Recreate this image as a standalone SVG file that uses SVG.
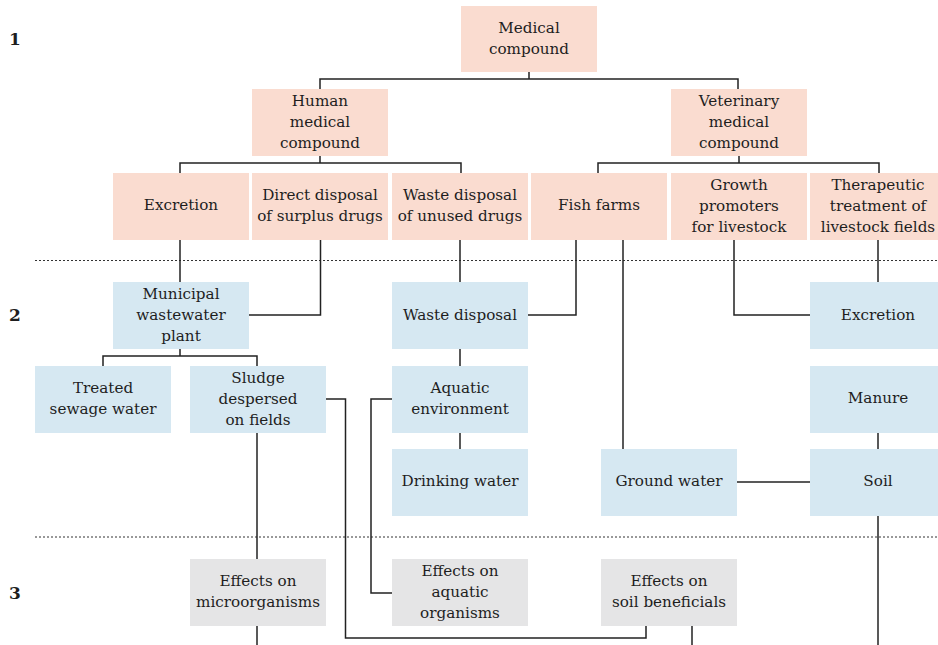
<svg xmlns="http://www.w3.org/2000/svg" width="938" height="645" viewBox="0 0 938 645">
  <style>
    .box { stroke: none; }
    .src { fill: #fadcd0; }
    .path { fill: #d6e8f2; }
    .eff { fill: #e5e5e6; }
    text { font-family: "DejaVu Serif", "Liberation Serif", serif; font-size: 15.2px; fill: #1e1e1e; text-anchor: middle; dominant-baseline: central; }
    .lvl { font-family: "DejaVu Serif", serif; font-weight: bold; font-size: 17px; text-anchor: start; }
    .conn path { fill: none; stroke: #222; stroke-width: 1.5; }
    .sep { stroke: #333; stroke-width: 1; stroke-dasharray: 2 2; }
  </style>

  <rect width="938" height="645" fill="#fff"/>

  <!-- level labels -->
  <text class="lvl" x="9" y="39">1</text>
  <text class="lvl" x="9" y="315">2</text>
  <text class="lvl" x="9" y="593">3</text>

  <!-- level separators -->
  <line class="sep" x1="35" y1="260.5" x2="938" y2="260.5"/>
  <line class="sep" x1="35" y1="537" x2="938" y2="537"/>

  <!-- connectors -->
  <g id="connectors" class="conn">
    <path d="M529,72 V79 M320,89 V79 H738 V89"/>
    <path d="M320,156 V163 M180,173 V163 H461 V173"/>
    <path d="M739,156 V163 M598,173 V163 H879 V173"/>
    <path d="M180,240 V282"/>
    <path d="M320.5,240 V315 H249"/>
    <path d="M460,240 V282"/>
    <path d="M576,240 V315 H528"/>
    <path d="M623,240 V449"/>
    <path d="M734,240 V315 H810"/>
    <path d="M878,240 V282"/>
    <path d="M180,349 V356 M103,366 V356 H257 V366"/>
    <path d="M257,433 V559"/>
    <path d="M257,626 V645"/>
    <path d="M326,399 H345.5 V638 H646 V626"/>
    <path d="M392,399 H371 V593 H392"/>
    <path d="M460,349 V366"/>
    <path d="M460,433 V449"/>
    <path d="M878,433 V449"/>
    <path d="M878,516 V645"/>
    <path d="M737,482 H810"/>
    <path d="M692,626 V645"/>
  </g>

  <!-- level 1: sources -->
  <g id="n-medical"><rect class="box src" x="461" y="6" width="136" height="66"/>
    <text x="529" y="28">Medical</text><text x="529" y="49">compound</text></g>
  <g id="n-human"><rect class="box src" x="252" y="89" width="136" height="67"/>
    <text x="320" y="101">Human</text><text x="320" y="122">medical</text><text x="320" y="143">compound</text></g>
  <g id="n-vet"><rect class="box src" x="671" y="89" width="136" height="67"/>
    <text x="739" y="101">Veterinary</text><text x="739" y="122">medical</text><text x="739" y="143">compound</text></g>
  <g id="n-excretion-h"><rect class="box src" x="113" y="173" width="136" height="67"/>
    <text x="181" y="205">Excretion</text></g>
  <g id="n-direct"><rect class="box src" x="252" y="173" width="136" height="67"/>
    <text x="320" y="195">Direct disposal</text><text x="320" y="216">of surplus drugs</text></g>
  <g id="n-unused"><rect class="box src" x="392" y="173" width="136" height="67"/>
    <text x="460" y="195">Waste disposal</text><text x="460" y="216">of unused drugs</text></g>
  <g id="n-fish"><rect class="box src" x="531" y="173" width="136" height="67"/>
    <text x="599" y="205">Fish farms</text></g>
  <g id="n-growth"><rect class="box src" x="671" y="173" width="136" height="67"/>
    <text x="739" y="185">Growth</text><text x="739" y="206">promoters</text><text x="739" y="227">for livestock</text></g>
  <g id="n-therapeutic"><rect class="box src" x="810" y="173" width="136" height="67"/>
    <text x="878" y="185">Therapeutic</text><text x="878" y="206">treatment of</text><text x="878" y="227">livestock fields</text></g>

  <!-- level 2: pathways -->
  <g id="n-municipal"><rect class="box path" x="113" y="282" width="136" height="67"/>
    <text x="181" y="294">Municipal</text><text x="181" y="315">wastewater</text><text x="181" y="336">plant</text></g>
  <g id="n-wastedisp"><rect class="box path" x="392" y="282" width="136" height="67"/>
    <text x="460" y="315">Waste disposal</text></g>
  <g id="n-excretion-v"><rect class="box path" x="810" y="282" width="136" height="67"/>
    <text x="878" y="315">Excretion</text></g>
  <g id="n-treated"><rect class="box path" x="35" y="366" width="136" height="67"/>
    <text x="103" y="388">Treated</text><text x="103" y="409">sewage water</text></g>
  <g id="n-sludge"><rect class="box path" x="190" y="366" width="136" height="67"/>
    <text x="258" y="378">Sludge</text><text x="258" y="399">despersed</text><text x="258" y="420">on fields</text></g>
  <g id="n-aquatic"><rect class="box path" x="392" y="366" width="136" height="67"/>
    <text x="460" y="388">Aquatic</text><text x="460" y="409">environment</text></g>
  <g id="n-manure"><rect class="box path" x="810" y="366" width="136" height="67"/>
    <text x="878" y="398">Manure</text></g>
  <g id="n-drinking"><rect class="box path" x="392" y="449" width="136" height="67"/>
    <text x="460" y="481">Drinking water</text></g>
  <g id="n-ground"><rect class="box path" x="601" y="449" width="136" height="67"/>
    <text x="669" y="481">Ground water</text></g>
  <g id="n-soil"><rect class="box path" x="810" y="449" width="136" height="67"/>
    <text x="878" y="481">Soil</text></g>

  <!-- level 3: effects -->
  <g id="n-eff-micro"><rect class="box eff" x="190" y="559" width="136" height="67"/>
    <text x="258" y="581">Effects on</text><text x="258" y="602">microorganisms</text></g>
  <g id="n-eff-aquatic"><rect class="box eff" x="392" y="559" width="136" height="67"/>
    <text x="460" y="571">Effects on</text><text x="460" y="592">aquatic</text><text x="460" y="613">organisms</text></g>
  <g id="n-eff-soil"><rect class="box eff" x="601" y="559" width="136" height="67"/>
    <text x="669" y="581">Effects on</text><text x="669" y="602">soil beneficials</text></g>
</svg>
